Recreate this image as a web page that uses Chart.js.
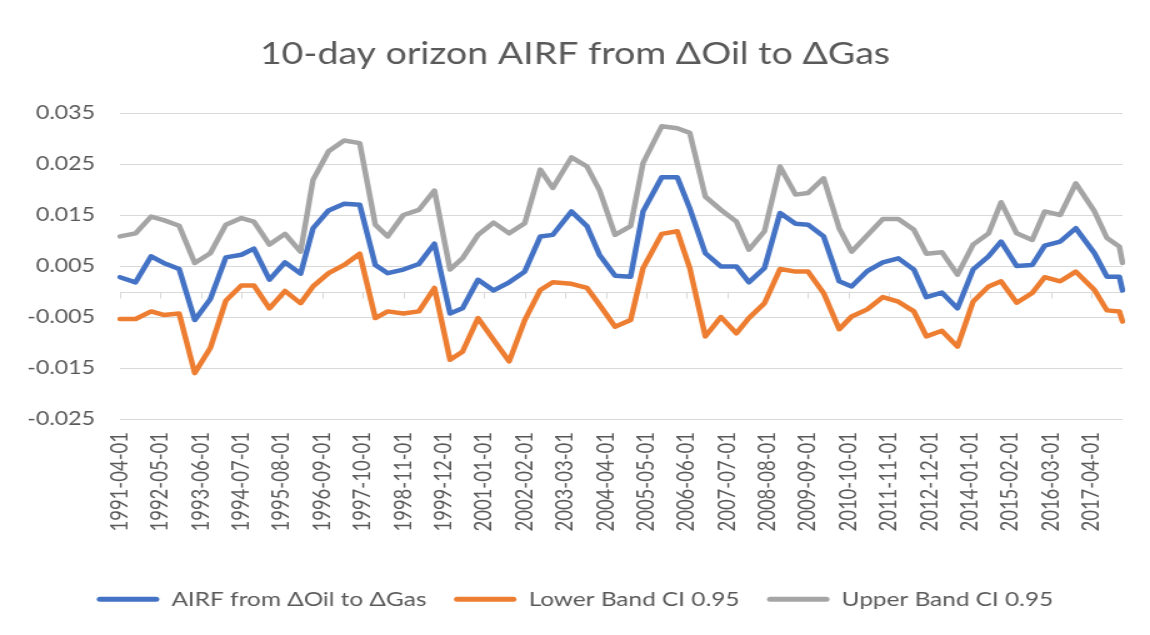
<!DOCTYPE html>
<html>
<head>
<meta charset="utf-8">
<title>10-day orizon AIRF</title>
<script src="https://cdn.jsdelivr.net/npm/chart.js@4/dist/chart.umd.min.js"></script>
<style>
    html, body { margin: 0; padding: 0; background: #fff; overflow: hidden; }
    /* the source picture is an Excel chart stretched sideways, so the chart is drawn narrow and widened */
    #wrap { width: 920px; height: 635px; transform: scaleX(1.25); transform-origin: 0 0; }
</style>
</head>
<body>
<div id="wrap"><canvas id="chart"></canvas></div>
<script>
(function () {
    "use strict";

    // monthly category axis, a label every 13 months
    const firstMonth = [1991, 4];
    const lastMonth = [2018, 2];
    const labelEvery = 13;

    // dates of the estimates
    const pointDates = [
        '1991-04-01', '1991-09-01', '1992-02-01', '1992-06-01', '1992-11-01', '1993-04-01', '1993-09-01', '1994-02-01',
        '1994-07-01', '1994-11-01', '1995-04-01', '1995-09-01', '1996-02-01', '1996-06-01', '1996-11-01', '1997-04-01',
        '1997-09-01', '1998-02-01', '1998-06-01', '1998-11-01', '1999-04-01', '1999-09-01', '2000-02-01', '2000-06-01',
        '2000-11-01', '2001-04-01', '2001-09-01', '2002-02-01', '2002-07-01', '2002-11-01', '2003-05-01', '2003-10-01',
        '2004-02-01', '2004-07-01', '2004-12-01', '2005-04-01', '2005-10-01', '2006-03-01', '2006-07-01', '2006-12-01',
        '2007-05-01', '2007-10-01', '2008-02-01', '2008-07-01', '2008-12-01', '2009-05-01', '2009-09-01', '2010-02-01',
        '2010-07-01', '2010-11-01', '2011-04-01', '2011-09-01', '2012-02-01', '2012-07-01', '2012-11-01', '2013-04-01',
        '2013-09-01', '2014-02-01', '2014-07-01', '2014-11-01', '2015-04-01', '2015-09-01', '2016-01-01', '2016-06-01',
        '2016-11-01', '2017-05-01', '2017-09-01', '2018-01-01', '2018-02-01'
    ];

    const airf = [
        0.0028, 0.0018, 0.0069, 0.0056, 0.0044, -0.0056, -0.0015, 0.0067, 0.0072, 0.0084, 0.0023, 0.0057, 0.0035, 0.0124, 0.0159, 0.0172, 0.0170,
        0.0052, 0.0036, 0.0043, 0.0054, 0.0094, -0.0043, -0.0033, 0.0023, 0.0002, 0.0018, 0.0039, 0.0108, 0.0111, 0.0157, 0.0128, 0.0072, 0.0031,
        0.0029, 0.0157, 0.0224, 0.0224, 0.0163, 0.0075, 0.0049, 0.0049, 0.0018, 0.0046, 0.0154, 0.0133, 0.0131, 0.0108, 0.0020, 0.0010,
        0.0040, 0.0057, 0.0065, 0.0043, -0.0011, -0.0002, -0.0033, 0.0043, 0.0069, 0.0098, 0.0050, 0.0052, 0.0090, 0.0098, 0.0124, 0.0075, 0.0029, 0.0029, 0.0002
    ];

    const lowerBand = [
        -0.0054, -0.0054, -0.0039, -0.0046, -0.0043, -0.0160, -0.0111, -0.0018, 0.0012, 0.0012, -0.0033, 0.0001, -0.0023, 0.0010, 0.0036, 0.0052, 0.0074,
        -0.0052, -0.0039, -0.0043, -0.0039, 0.0007, -0.0134, -0.0118, -0.0052, -0.0095, -0.0137, -0.0056, 0.0003, 0.0018, 0.0015, 0.0007, -0.0026, -0.0069,
        -0.0056, 0.0046, 0.0113, 0.0118, 0.0046, -0.0088, -0.0050, -0.0082, -0.0052, -0.0023, 0.0044, 0.0039, 0.0039, -0.0003, -0.0074, -0.0049,
        -0.0035, -0.0011, -0.0020, -0.0039, -0.0088, -0.0077, -0.0108, -0.0020, 0.0010, 0.0020, -0.0022, -0.0003, 0.0028, 0.0020, 0.0039, 0.0003, -0.0037, -0.0039, -0.0059
    ];

    const upperBand = [
        0.0108, 0.0114, 0.0147, 0.0140, 0.0129, 0.0056, 0.0075, 0.0131, 0.0144, 0.0137, 0.0092, 0.0113, 0.0078, 0.0219, 0.0275, 0.0296, 0.0291,
        0.0131, 0.0108, 0.0150, 0.0160, 0.0198, 0.0043, 0.0065, 0.0111, 0.0135, 0.0114, 0.0134, 0.0239, 0.0203, 0.0263, 0.0245, 0.0199, 0.0111,
        0.0128, 0.0252, 0.0324, 0.0320, 0.0311, 0.0186, 0.0160, 0.0137, 0.0082, 0.0118, 0.0245, 0.0190, 0.0193, 0.0222, 0.0124, 0.0078,
        0.0110, 0.0142, 0.0142, 0.0121, 0.0074, 0.0077, 0.0033, 0.0092, 0.0114, 0.0175, 0.0114, 0.0101, 0.0157, 0.0150, 0.0212, 0.0157, 0.0105, 0.0088, 0.0056
    ];

    const seriesNames = ['AIRF from \u0394Oil to \u0394Gas', 'Lower Band CI 0.95', 'Upper Band CI 0.95'];
    const seriesColors = ['#4472C4', '#ED7D31', '#A5A5A5'];

    const textColor = '#595959';
    const gridColor = '#d9d9d9';

    function monthLabels(from, to) {
        const out = [];
        let y = from[0], m = from[1];
        while (y < to[0] || (y === to[0] && m <= to[1])) {
            out.push(y + '-' + String(m).padStart(2, '0') + '-01');
            m++;
            if (m > 12) { m = 1; y++; }
        }
        return out;
    }

    function points(values) {
        return values.map((v, i) => ({ x: pointDates[i], y: v }));
    }

    // Excel puts the category axis line at zero, tick marks hanging below it
    const zeroAxis = {
        id: 'zeroAxis',
        beforeDatasetsDraw(chart) {
            const { ctx, chartArea, scales } = chart;
            const y0 = Math.round(scales.y.getPixelForValue(0)) + 0.5;
            ctx.save();
            ctx.strokeStyle = gridColor;
            ctx.lineWidth = 1;
            ctx.beginPath();
            ctx.moveTo(chartArea.left, y0);
            ctx.lineTo(chartArea.right, y0);
            scales.x.ticks.forEach(t => {
                const x = Math.round(scales.x.getPixelForValue(t.value)) + 0.5;
                ctx.moveTo(x, y0);
                ctx.lineTo(x, y0 + 6);
            });
            ctx.stroke();
            ctx.restore();
        }
    };

    const labels = monthLabels(firstMonth, lastMonth);
    const values = [airf, lowerBand, upperBand];

    Chart.defaults.font.family = 'Lato, "Open Sans", sans-serif';
    Chart.defaults.color = textColor;

    new Chart(document.getElementById('chart'), {
        type: 'line',
        data: {
            labels: labels,
            datasets: values.map((vals, i) => ({
                label: seriesNames[i],
                data: points(vals),
                borderColor: seriesColors[i],
                backgroundColor: seriesColors[i],
                borderWidth: 4.5,
                borderJoinStyle: 'round',
                borderCapStyle: 'round',
                pointRadius: 0,
                tension: 0,
                order: 3 - i
            }))
        },
        plugins: [zeroAxis],
        options: {
            responsive: true,
            maintainAspectRatio: false,
            animation: false,
            layout: { padding: { top: 0, right: 0, bottom: 16, left: 0 } },
            plugins: {
                title: {
                    display: true,
                    text: '10-day orizon AIRF from \u0394Oil to \u0394Gas',
                    color: textColor,
                    font: { size: 30, weight: 'normal' },
                    padding: { top: 36, bottom: 41 }
                },
                legend: {
                    position: 'bottom',
                    labels: {
                        color: textColor,
                        font: { size: 19.5 },
                        boxWidth: 50,
                        boxHeight: 5,
                        padding: 22,
                        useBorderRadius: true,
                        borderRadius: 2.5,
                        sort: (a, b) => a.datasetIndex - b.datasetIndex,
                        generateLabels: function (chart) {
                            return Chart.defaults.plugins.legend.labels.generateLabels(chart).map(item => {
                                item.lineWidth = 0;
                                item.fillStyle = item.strokeStyle;
                                return item;
                            });
                        }
                    }
                },
                tooltip: { enabled: false }
            },
            scales: {
                x: {
                    type: 'category',
                    offset: false,
                    grid: { display: false, drawTicks: false },
                    border: { display: false },
                    afterBuildTicks: function (axis) {
                        axis.ticks = axis.ticks.filter(t => t.value % labelEvery === 0);
                    },
                    afterFit: function (axis) { axis.height = 148.5; },
                    ticks: {
                        autoSkip: false,
                        minRotation: 90,
                        maxRotation: 90,
                        padding: 13,
                        color: textColor,
                        font: { size: 18.5 }
                    }
                },
                y: {
                    min: -0.025,
                    max: 0.035,
                    afterFit: function (axis) { axis.width = 96; },
                    grid: { color: gridColor, lineWidth: 1, drawTicks: false },
                    border: { display: false },
                    ticks: {
                        stepSize: 0.01,
                        padding: 20,
                        color: textColor,
                        font: { size: 18.5 },
                        callback: v => v.toFixed(3)
                    }
                },
                // empty strip on the right so the plot ends where Excel's does
                yRight: {
                    position: 'right',
                    display: true,
                    afterFit: function (axis) { axis.width = 22; },
                    grid: { display: false, drawTicks: false },
                    border: { display: false },
                    ticks: { display: false }
                }
            }
        }
    });
})();
</script>
</body>
</html>
